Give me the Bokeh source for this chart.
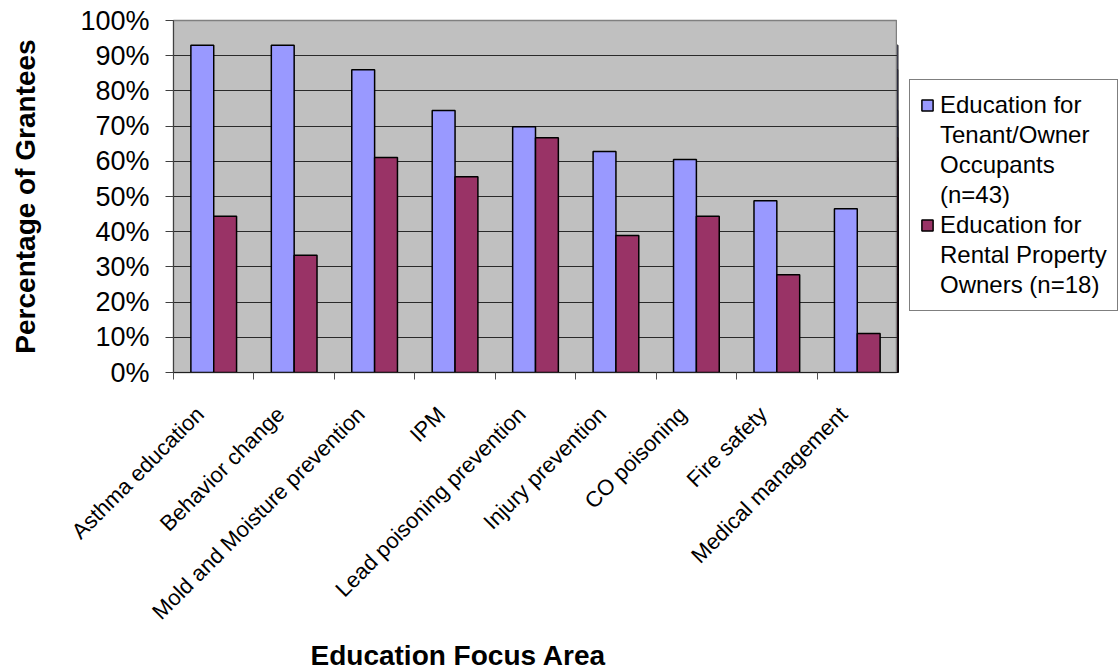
from math import pi

from bokeh.embed import file_html
from bokeh.layouts import row
from bokeh.models import (ColumnDataSource, CustomJSTickFormatter, FixedTicker, Legend,
                          LegendItem, LinearAxis, PrintfTickFormatter, Range1d, Title)
from bokeh.plotting import figure
from bokeh.resources import INLINE
from bokeh.transform import dodge

# Share of grantees offering each kind of education, by focus area (percent)
categories = [
    "Asthma education",
    "Behavior change",
    "Mold and Moisture prevention",
    "IPM",
    "Lead poisoning prevention",
    "Injury prevention",
    "CO poisoning",
    "Fire safety",
    "Medical management",
]
tenant_owner_pct = [93.0, 93.0, 86.0, 74.4, 69.8, 62.8, 60.5, 48.8, 46.5]
rental_owner_pct = [44.4, 33.3, 61.1, 55.6, 66.7, 38.9, 44.4, 27.8, 11.1]
# legend text, one entry per line
tenant_label_lines = ["Education for", "Tenant/Owner", "Occupants", "(n=43)"]
rental_label_lines = ["Education for", "Rental Property", "Owners (n=18)"]
y_ticks = list(range(0, 101, 10))

FONT = "Liberation Sans"
BLUE = "#9999FF"
PLUM = "#993366"

n_cat = len(categories)
# each category occupies one unit slot; groups sit in the middle of their slot
slot_center = [i + 0.5 for i in range(n_cat)]
source = ColumnDataSource(dict(cat=categories, pos=slot_center,
                               tenant=tenant_owner_pct, rental=rental_owner_pct))

p = figure(
    width=897, height=671,
    x_range=Range1d(0, n_cat), y_range=Range1d(0, 100),
    x_axis_location=None,
    output_backend="svg", toolbar_location=None,
    min_border_left=173, min_border_right=0, min_border_top=20, min_border_bottom=299,
)
p.background_fill_color = "#C0C0C0"
p.border_fill_color = "white"
p.outline_line_color = "#808080"
p.outline_line_width = 1.5

# horizontal gridlines only
p.xgrid.visible = False
p.ygrid.ticker = FixedTicker(ticks=y_ticks)
p.ygrid.grid_line_color = "#2a2a2a"
p.ygrid.grid_line_width = 1

# bars
bar_style = dict(width=0.284, line_color="black", line_width=1.5)
p.vbar(x=dodge("pos", -0.142), top="tenant", source=source, fill_color=BLUE, **bar_style)
p.vbar(x=dodge("pos", 0.142), top="rental", source=source, fill_color=PLUM, **bar_style)

# y axis
yax = p.yaxis[0]
yax.ticker = FixedTicker(ticks=y_ticks)
yax.formatter = PrintfTickFormatter(format="%d%%")
yax.major_label_text_font = FONT
yax.major_label_text_font_size = "27px"
yax.major_label_text_color = "black"
yax.major_label_standoff = 16
yax.major_tick_out = 8
yax.major_tick_in = 0
yax.minor_tick_line_color = None
yax.axis_line_color = "#404040"
yax.major_tick_line_color = "#404040"
yax.axis_label = "Percentage of Grantees"
yax.axis_label_text_font = FONT
yax.axis_label_text_font_size = "28px"
yax.axis_label_text_font_style = "bold"
yax.axis_label_text_color = "black"
yax.axis_label_standoff = 36

# x axis line with ticks on the boundaries between categories
edge_axis = LinearAxis(
    ticker=FixedTicker(ticks=list(range(n_cat + 1))),
    formatter=CustomJSTickFormatter(code="return ''"),
    major_label_text_font_size="1px", major_label_standoff=0,
    major_tick_out=7, major_tick_in=0, minor_tick_line_color=None,
    axis_line_color="#202020", major_tick_line_color="#505050",
)
p.add_layout(edge_axis, "below")

# slanted category names, ending just left of each group's centre
name_shift = 0.17
name_axis = LinearAxis(
    ticker=FixedTicker(ticks=[c - name_shift for c in slot_center]),
    formatter=CustomJSTickFormatter(args=dict(names=categories), code="return names[index]"),
    major_label_orientation=pi / 4,
    major_label_text_font=FONT, major_label_text_font_size="22px",
    major_label_text_color="black", major_label_standoff=31,
    major_tick_out=0, major_tick_in=0, minor_tick_line_color=None,
    major_tick_line_color=None, axis_line_color=None,
)
p.add_layout(name_axis, "below")

p.add_layout(Title(
    text="Education Focus Area", align="left", offset=137, standoff=2,
    text_font=FONT, text_font_size="28px", text_font_style="bold", text_color="black",
), "below")

# legend panel to the right of the chart (its frame lines up with the chart's);
# its swatch renderers reuse the bar data but sit outside this panel's x range
lp = figure(
    width=221, height=671, x_range=Range1d(n_cat + 5, n_cat + 6), y_range=Range1d(0, 100),
    x_axis_location=None, y_axis_location=None,
    output_backend="svg", toolbar_location=None,
    min_border_left=0, min_border_right=0, min_border_top=0, min_border_bottom=0,
)
lp.grid.visible = False
lp.outline_line_color = None
lp.background_fill_color = "white"
lp.border_fill_color = "white"

swatch_tenant = lp.vbar(x=dodge("pos", -0.142), top="tenant", source=source,
                        fill_color=BLUE, **bar_style)
swatch_rental = lp.vbar(x=dodge("pos", 0.142), top="rental", source=source,
                        fill_color=PLUM, **bar_style)

# the swatch sits on the first line of each entry
legend_items = []
for lines, renderer in ((tenant_label_lines, swatch_tenant), (rental_label_lines, swatch_rental)):
    legend_items.append(LegendItem(label=lines[0], renderers=[renderer]))
    legend_items.extend(LegendItem(label=line, renderers=[]) for line in lines[1:])

legend = Legend(
    items=legend_items,
    location=(12, 61),
    label_text_font=FONT, label_text_font_size="24px", label_text_color="black",
    label_height=30, glyph_width=14, glyph_height=14, label_standoff=6,
    padding=10, spacing=0, margin=0,
    border_line_color="black", border_line_width=1.2,
    background_fill_color="white", background_fill_alpha=1,
)
lp.add_layout(legend)

open("out.html", "w").write(file_html(row(p, lp), INLINE))
